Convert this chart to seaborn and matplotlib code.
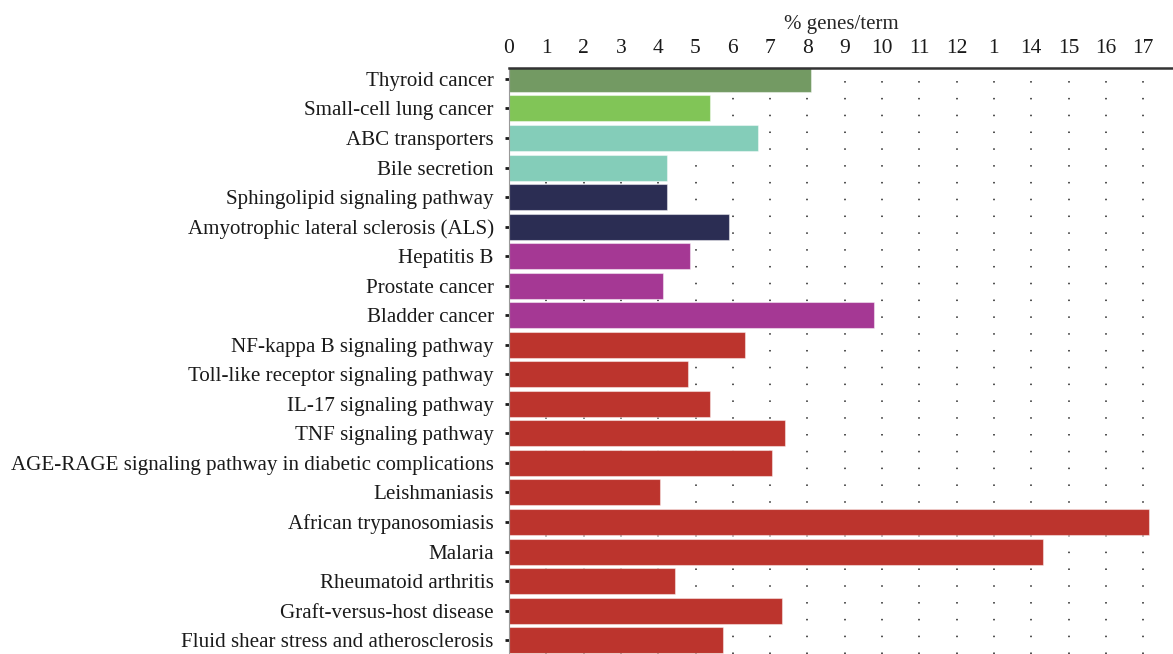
import matplotlib
matplotlib.use("Agg")
import matplotlib.pyplot as plt
import seaborn as sns
import pandas as pd

terms = [
    "Thyroid cancer",
    "Small-cell lung cancer",
    "ABC transporters",
    "Bile secretion",
    "Sphingolipid signaling pathway",
    "Amyotrophic lateral sclerosis (ALS)",
    "Hepatitis B",
    "Prostate cancer",
    "Bladder cancer",
    "NF-kappa B signaling pathway",
    "Toll-like receptor signaling pathway",
    "IL-17 signaling pathway",
    "TNF signaling pathway",
    "AGE-RAGE signaling pathway in diabetic complications",
    "Leishmaniasis",
    "African trypanosomiasis",
    "Malaria",
    "Rheumatoid arthritis",
    "Graft-versus-host disease",
    "Fluid shear stress and atherosclerosis",
]
pct_genes = [8.10, 5.39, 6.68, 4.24, 4.24, 5.90, 4.85, 4.13, 9.78, 6.33,
             4.80, 5.39, 7.40, 7.06, 4.05, 17.16, 14.32, 4.45, 7.32, 5.74]
groups = ["g1", "g2", "g3", "g3", "g4", "g4", "g5", "g5", "g5", "g6",
          "g6", "g6", "g6", "g6", "g6", "g6", "g6", "g6", "g6", "g6"]
group_colours = {
    "g1": "#739a63",
    "g2": "#81c557",
    "g3": "#84cdb9",
    "g4": "#2b2d53",
    "g5": "#a53894",
    "g6": "#bc342d",
}
tick_labels = ["0", "1", "2", "3", "4", "5", "6", "7", "8", "9", "10",
               "11", "12", "1", "14", "15", "16", "17"]

df = pd.DataFrame({"term": terms, "pct": pct_genes, "group": groups})

sns.set_style("white")
plt.rcParams["font.family"] = ["Liberation Serif", "DejaVu Serif"]

fig = plt.figure(figsize=(11.73, 6.54), dpi=100)
ax = fig.add_axes([509 / 1173, 0, 1 - 509 / 1173, 1 - 68 / 654])

sns.barplot(
    data=df,
    x="pct",
    y="term",
    hue="group",
    palette=group_colours,
    saturation=1,
    dodge=False,
    width=0.88,
    legend=False,
    linewidth=0.8,
    edgecolor="white",
    ax=ax,
)
for bar in ax.patches:
    bar.set_edgecolor((1, 1, 1, 0.45))

ax.set_xlim(0, 17.8)
ax.set_ylim(19.47, -0.37)
ax.set_xticks(range(len(tick_labels)))
ax.set_xticklabels(tick_labels)
ax.xaxis.tick_top()
ax.xaxis.set_label_position("top")
ax.set_xlabel("% genes/term", fontsize=15, labelpad=7)
ax.set_ylabel("")
ax.tick_params(axis="x", length=0, pad=7.5, labelsize=15.5, colors="#1a1a1a")
ax.tick_params(axis="y", left=True, length=3, width=2, pad=8,
               labelsize=15.1, colors="#1a1a1a")

ax.grid(axis="x", color="#222222", linewidth=1.1, linestyle=(0, (1, 10)))
ax.grid(axis="y", visible=False)
ax.set_axisbelow(True)

for side in ["right", "bottom"]:
    ax.spines[side].set_visible(False)
ax.spines["top"].set_color("#333333")
ax.spines["top"].set_linewidth(1.8)
ax.spines["left"].set_color("#999999")
ax.spines["left"].set_linewidth(0.8)

fig.savefig("out.png", dpi=100)
